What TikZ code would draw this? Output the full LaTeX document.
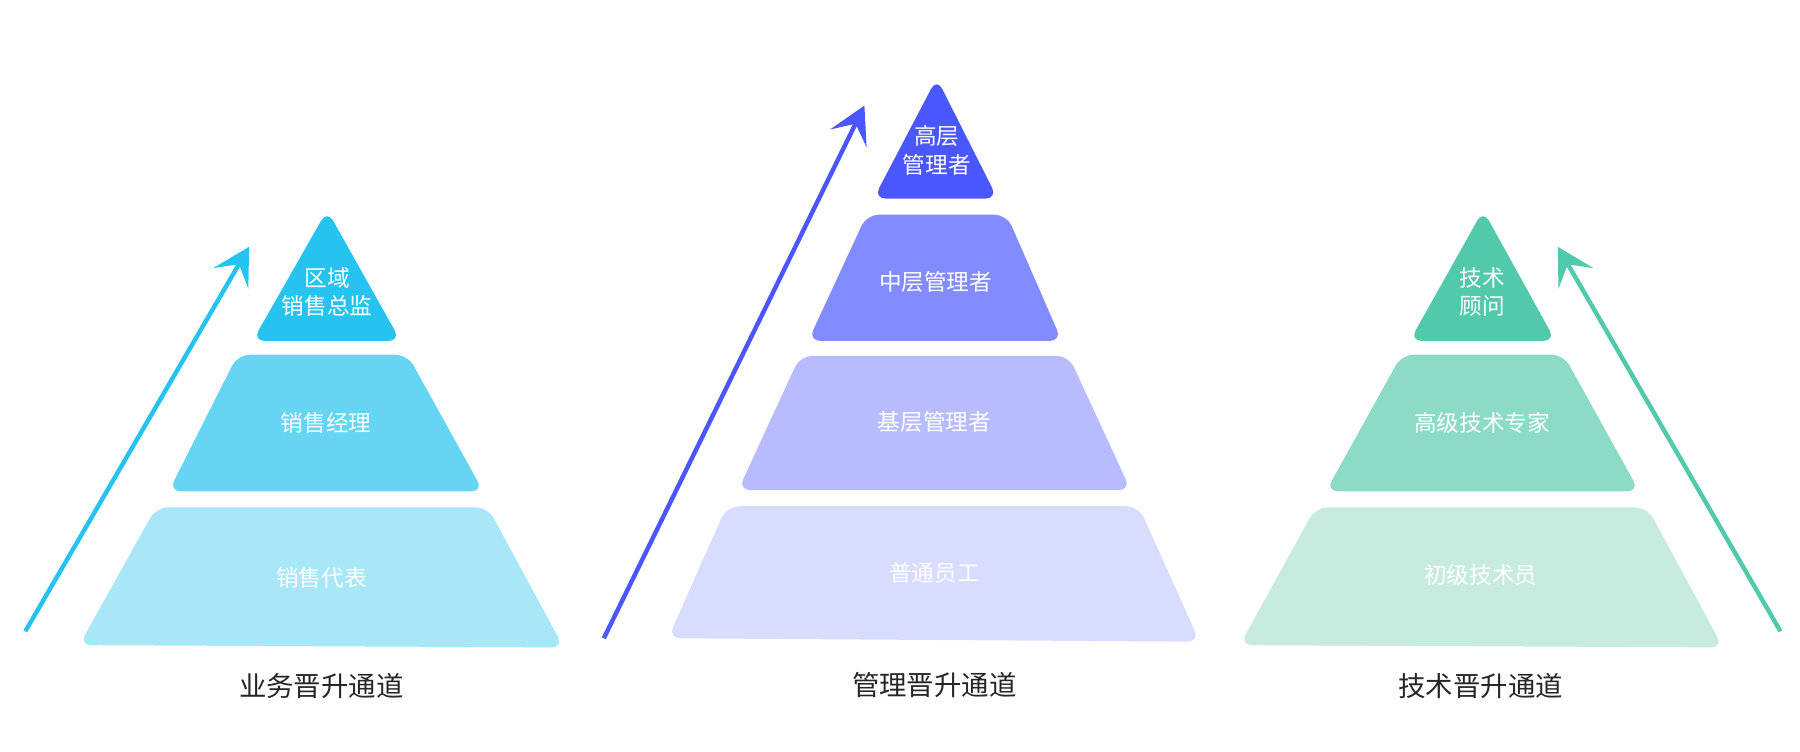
\documentclass[tikz,border=0pt]{standalone}
\usepackage{fontspec}
\newfontfamily\cjk{Noto Sans CJK SC}
\usetikzlibrary{arrows.meta,positioning}
\definecolor{bizA}{HTML}{26C3F0}
\definecolor{bizB}{HTML}{66D5F4}
\definecolor{bizC}{HTML}{A8E7F8}
\definecolor{mgrA}{HTML}{4A57FF}
\definecolor{mgrB}{HTML}{828BFF}
\definecolor{mgrC}{HTML}{B7BCFF}
\definecolor{mgrD}{HTML}{D8DCFF}
\definecolor{tecA}{HTML}{52C9AA}
\definecolor{tecB}{HTML}{8CDBC5}
\definecolor{tecC}{HTML}{C8EBE0}
\tikzset{
  layer/.style={rounded corners=3pt},
  lbl/.style={text=white, font=\cjk\fontsize{5.6}{7}\selectfont, align=center},
  title/.style={text=black!85, font=\cjk\fontsize{6.8}{8}\selectfont},
  climb/.style={line width=1.1pt, -{Stealth[length=9pt,width=10pt,inset=4pt]}}
}
\begin{document}
\begin{tikzpicture}[x=0.01cm,y=-0.01cm]
\useasboundingbox (0,0) rectangle (1568,655);

% business channel
\fill[bizA,layer] (285,183) -- (349,297) -- (220,297) -- cycle;
\fill[bizB,layer] (207,309) -- (355,309) -- (421,428) -- (147,428) -- cycle;
\fill[bizC,layer] (136,442) -- (425,442) -- (491,564) -- (69,562) -- cycle;
\node[lbl] (b1) at (285,254) {区域\\销售总监};
\node[lbl] (b2) at (284,368) {销售经理};
\node[lbl] (b3) at (280,503) {销售代表};
\node[title] (bt) at (280,598) {业务晋升通道};
\coordinate (bs) at (22,550);
\coordinate (be) at (217,215);
\draw[climb, bizA] (bs) -- (be);

% management channel
\fill[mgrA,layer] (816,68) -- (869,173) -- (761,173) -- cycle;
\fill[mgrB,layer] (755,187) -- (877,187) -- (925,297) -- (704,297) -- cycle;
\fill[mgrC,layer] (697,310) -- (931,310) -- (985,427) -- (643,427) -- cycle;
\fill[mgrD,layer] (633,441) -- (992,441) -- (1045,559) -- (582,556) -- cycle;
\node[lbl] (m1) at (816,131) {高层\\管理者};
\node[lbl] (m2) at (815,246) {中层管理者};
\node[lbl] (m3) at (814,368) {基层管理者};
\node[lbl] (m4) at (814,499) {普通员工};
\node[title] (mt) at (814,597) {管理晋升通道};
\coordinate (ms) at (526,556);
\coordinate (me) at (753,92);
\draw[climb, mgrA] (ms) -- (me);

% technical channel
\fill[tecA,layer] (1292,183) -- (1355,297) -- (1228,297) -- cycle;
\fill[tecB,layer] (1221,309) -- (1362,309) -- (1428,428) -- (1155,428) -- cycle;
\fill[tecC,layer] (1146,442) -- (1435,442) -- (1501,564) -- (1080,562) -- cycle;
\node[lbl] (t1) at (1291,254) {技术\\顾问};
\node[lbl] (t2) at (1291,368) {高级技术专家};
\node[lbl] (t3) at (1290,501) {初级技术员};
\node[title] (tt) at (1290,598) {技术晋升通道};
\coordinate (ts) at (1551,550);
\coordinate (te) at (1357,215);
\draw[climb, tecA] (ts) -- (te);

\end{tikzpicture}
\end{document}
